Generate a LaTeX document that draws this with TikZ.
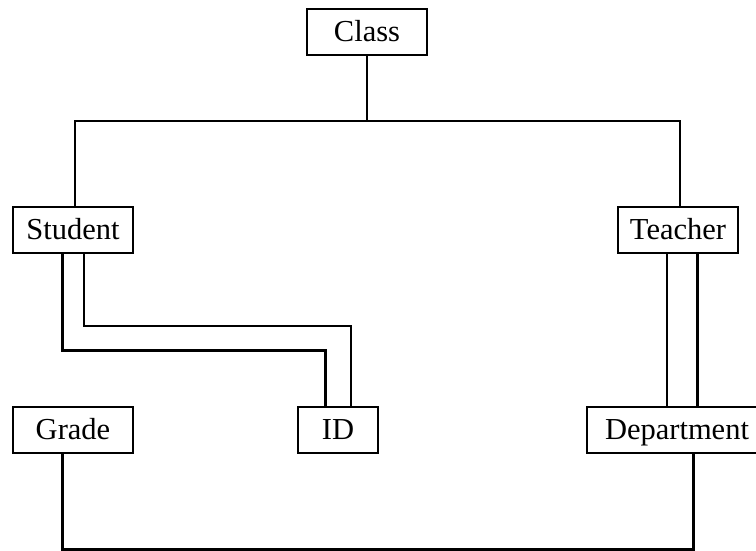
\documentclass[tikz,border=0pt]{standalone}
\usepackage{fontspec}
\setmainfont{Liberation Serif}
\begin{document}
\begin{tikzpicture}[x=1pt,y=-1pt,
  entity/.style={draw=black, line width=1.4pt, rectangle, inner sep=0pt,
    minimum height=46pt, text height=22pt, text depth=3pt,
    font=\fontsize{30.5}{33}\selectfont},
  link/.style={line width=2.2pt, line cap=rect},
  thicklink/.style={line width=3pt, line cap=rect}]
\useasboundingbox (0,0) rectangle (756,551);

% entity boxes
\node[entity, minimum width=120pt] (class) at (367,32) {Class};
\node[entity, minimum width=120pt] (student) at (73,230) {Student};
\node[entity, minimum width=120pt] (teacher) at (678,230) {Teacher};
\node[entity, minimum width=120pt] (grade) at (73,430) {Grade};
\node[entity, minimum width=80pt] (id) at (338,430) {ID};
\node[entity, minimum width=180pt] (dept) at (677,430) {Department\hspace{8pt}};

% Class to Student and Teacher
\coordinate (bus) at (367,121);
\draw[link] (class.south) -- (bus);
\draw[link] (student.north -| 75,0) |- (bus) -| (teacher.north -| 680,0);

% Student to ID (double connector)
\draw[thicklink] (student.south -| 62,0) |- (325,350) -- (id.north -| 325,0);
\draw[link] (student.south -| 84,0) |- (351,326) -- (id.north -| 351,0);

% Teacher to Department (double connector)
\draw[link] (teacher.south -| 667,0) -- (dept.north -| 667,0);
\draw[thicklink] (teacher.south -| 697,0) -- (dept.north -| 697,0);

% Grade to Department
\draw[thicklink] (grade.south -| 62,0) |- (549,549) -| (dept.south -| 693,0);
\end{tikzpicture}
\end{document}
